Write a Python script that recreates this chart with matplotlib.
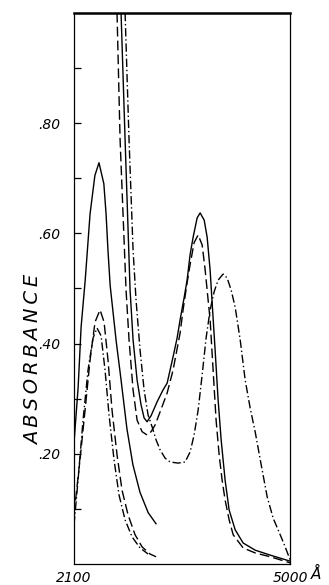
import matplotlib
matplotlib.use('Agg')
import matplotlib.pyplot as plt

# left group (peak near 2430 A)
wl_solid_l = [2100, 2155, 2195, 2250, 2315, 2380, 2435, 2500, 2530, 2555, 2585, 2625, 2665, 2730,
              2810, 2890, 2985, 3095, 3200]
ab_solid_l = [0.22, 0.32, 0.43, 0.515, 0.635, 0.705, 0.728, 0.69, 0.635, 0.57, 0.505, 0.455, 0.405, 0.335,
              0.245, 0.18, 0.13, 0.093, 0.073]

wl_dash_l = [2100, 2113, 2180, 2248, 2315, 2382, 2449, 2503, 2556, 2610, 2677, 2744, 2825, 2919, 3013, 3120, 3201]
ab_dash_l = [0.09, 0.107, 0.189, 0.279, 0.370, 0.439, 0.461, 0.439, 0.370, 0.279, 0.198, 0.134, 0.089, 0.053,
             0.031, 0.018, 0.013]

wl_dd_l = [2100, 2154, 2221, 2288, 2355, 2409, 2463, 2516, 2570, 2637, 2704, 2785, 2879, 2986, 3094]
ab_dd_l = [0.071, 0.152, 0.261, 0.352, 0.410, 0.428, 0.414, 0.352, 0.270, 0.189, 0.125, 0.080, 0.049, 0.029, 0.018]

# right group (peaks near 3800 and 4100 A)
wl_solid_r = [2731, 2785, 2852, 2892, 2946, 2999, 3040, 3080, 3134, 3214, 3295, 3349, 3389, 3429, 3483, 3523,
              3577, 3617, 3657, 3698, 3752, 3792, 3846, 3886, 3926, 3953, 3993, 4033, 4074, 4127, 4181, 4262,
              4369, 4530, 4732, 5000]
ab_solid_r = [1.0, 0.770, 0.497, 0.407, 0.334, 0.289, 0.265, 0.258, 0.269, 0.294, 0.316, 0.328, 0.352, 0.376,
              0.410, 0.443, 0.483, 0.515, 0.561, 0.593, 0.628, 0.637, 0.624, 0.593, 0.533, 0.474, 0.388, 0.298,
              0.225, 0.152, 0.098, 0.062, 0.038, 0.025, 0.016, 0.005]

wl_dash_r = [2677, 2718, 2798, 2838, 2892, 2946, 3013, 3080, 3134, 3187, 3255, 3349, 3429, 3523, 3563, 3617,
             3657, 3711, 3765, 3819, 3859, 3899, 3926, 3966, 4006, 4047, 4087, 4127, 4181, 4235, 4369, 4530,
             4732, 5000]
ab_dash_r = [1.0, 0.770, 0.497, 0.407, 0.316, 0.261, 0.240, 0.234, 0.240, 0.252, 0.276, 0.310, 0.352, 0.419,
             0.461, 0.510, 0.543, 0.583, 0.597, 0.579, 0.534, 0.479, 0.443, 0.352, 0.261, 0.198, 0.152, 0.116,
             0.080, 0.053, 0.029, 0.020, 0.013, 0.002]

wl_dd_r = [2785, 2838, 2892, 2932, 2986, 3040, 3094, 3147, 3201, 3255, 3322, 3389, 3496, 3590, 3657, 3711,
           3765, 3819, 3872, 3926, 3980, 4033, 4100, 4154, 4208, 4262, 4329, 4396, 4463, 4530, 4611, 4691,
           4772, 4866, 4933, 5000]
ab_dd_r = [1.0, 0.770, 0.570, 0.479, 0.388, 0.316, 0.270, 0.249, 0.225, 0.207, 0.192, 0.185, 0.183, 0.185,
           0.203, 0.234, 0.279, 0.343, 0.410, 0.461, 0.494, 0.515, 0.526, 0.519, 0.497, 0.466, 0.407, 0.334,
           0.283, 0.240, 0.180, 0.122, 0.083, 0.053, 0.031, 0.007]

ytick_vals = [0.1, 0.2, 0.3, 0.4, 0.5, 0.6, 0.7, 0.8, 0.9]
ytick_labels = ['', '.20', '', '.40', '', '.60', '', '.80', '']

fig = plt.figure(figsize=(3.29, 5.85), dpi=100)
ax = fig.add_axes([0.225, 0.036, 0.657, 0.942])

dash = (0, (7, 3))
dashdot = (0, (6, 2, 1, 2))
lw = 1.0

ax.plot(wl_solid_l, ab_solid_l, color='black', lw=lw)
ax.plot(wl_dash_l, ab_dash_l, color='black', lw=lw, linestyle=dash)
ax.plot(wl_dd_l, ab_dd_l, color='black', lw=lw, linestyle=dashdot)
ax.plot(wl_solid_r, ab_solid_r, color='black', lw=lw)
ax.plot(wl_dash_r, ab_dash_r, color='black', lw=lw, linestyle=dash)
ax.plot(wl_dd_r, ab_dd_r, color='black', lw=lw, linestyle=dashdot)

ax.set_xlim(2100, 5000)
ax.set_ylim(0, 1.0)

ax.set_yticks(ytick_vals)
ax.set_yticklabels(ytick_labels, fontsize=10, style='italic')
ax.tick_params(axis='y', direction='in', length=5, width=0.9, pad=10)
ax.set_xticks([2100, 5000])
ax.set_xticklabels(['2100', '5000'], fontsize=10, style='italic')
ax.tick_params(axis='x', length=0, pad=5)
ax.text(1.095, -0.006, 'Å', transform=ax.transAxes, fontsize=11, style='italic',
        ha='left', va='top')

ax.set_ylabel('\u2009'.join('ABSORBANCE'), fontsize=14, style='italic')
ax.yaxis.set_label_coords(-0.145, 0.37)

for s in ax.spines.values():
    s.set_linewidth(0.9)
ax.spines['top'].set_linewidth(1.8)

fig.savefig('out.png', dpi=100)
